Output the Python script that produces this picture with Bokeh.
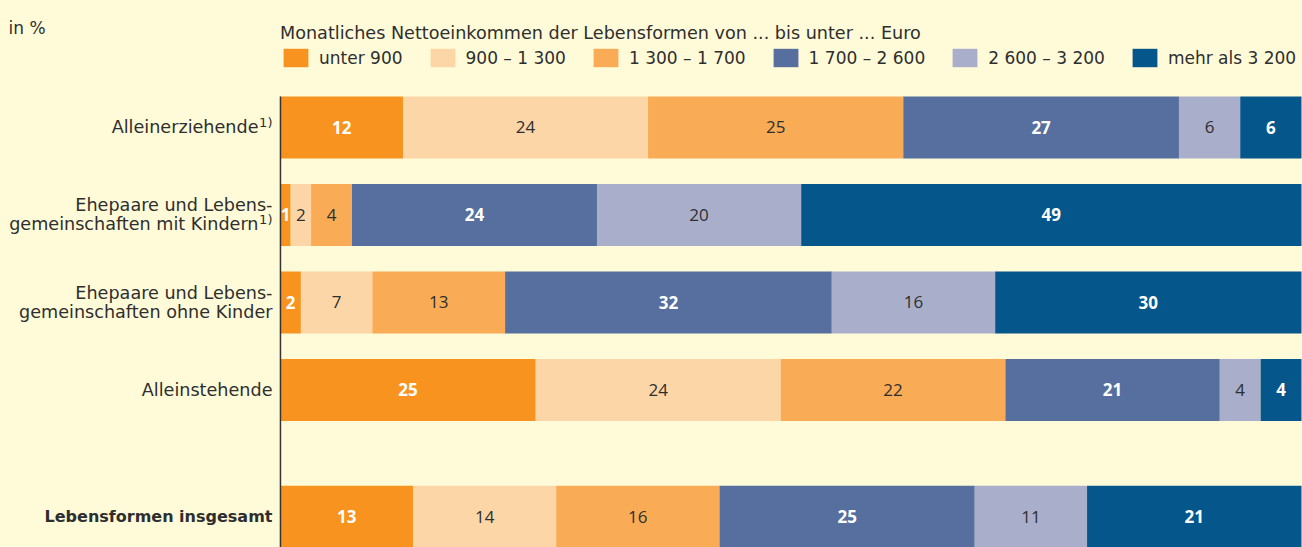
from bokeh.plotting import figure
from bokeh.models import ColumnDataSource, Range1d, Legend, LegendItem, Label
from bokeh.core.properties import value
from bokeh.embed import file_html
from bokeh.resources import INLINE
from jinja2 import Template

# ---------------- data ----------------
categories = [
    "Alleinerziehende",
    "Ehepaare und Lebens-\ngemeinschaften mit Kindern",
    "Ehepaare und Lebens-\ngemeinschaften ohne Kinder",
    "Alleinstehende",
    "Lebensformen insgesamt",
]
footnotes = ["1)", "1)", "", "", ""]
series = ["unter 900", "900 \u2013 1 300", "1 300 \u2013 1 700",
          "1 700 \u2013 2 600", "2 600 \u2013 3 200", "mehr als 3 200"]
unter_900 = [12, 1, 2, 25, 13]
von_900_1300 = [24, 2, 7, 24, 14]
von_1300_1700 = [25, 4, 13, 22, 16]
von_1700_2600 = [27, 24, 32, 21, 25]
von_2600_3200 = [6, 20, 16, 4, 11]
mehr_3200 = [6, 49, 30, 4, 21]
legend_title = "Monatliches Nettoeinkommen der Lebensformen von ... bis unter ... Euro"
unit_note = "in %"

values = [unter_900, von_900_1300, von_1300_1700, von_1700_2600, von_2600_3200, mehr_3200]

# ---------------- layout / style ----------------
W, H = 1302, 547
row_pos = [0, 1, 2, 3, 4.45]
bar_height = 0.71
x_range = (-27.42, 100.1)
y_range = (4.80, -1.451)
BG = "#FFFBD9"
FONT = "DejaVu Sans"
NUM_FONT = "Open Sans"
TXT = "#2E2E2E"
colors = ["#F7931E", "#FDD6A8", "#F9AC55", "#566F9E", "#A9AFCB", "#04568B"]
label_colors = ["white", TXT, TXT, "white", TXT, "white"]
label_styles = ["bold", "normal", "normal", "bold", "normal", "bold"]
cat_styles = ["normal", "normal", "normal", "normal", "bold"]
cat_sizes = ["17.6px", "17.6px", "17.6px", "17.6px", "16px"]
LINE_PX = 19       # line spacing of two-line category labels
LABEL_GAP = -8     # distance of labels from the 0 line
SUP_W = 14         # room taken by the footnote marker

p = figure(width=W, height=H, output_backend="svg", toolbar_location=None,
           x_range=Range1d(*x_range), y_range=Range1d(*y_range),
           min_border=0,
           background_fill_color=BG, border_fill_color=BG, outline_line_color=None)
p.xaxis.visible = False
p.yaxis.visible = False
p.xgrid.visible = False
p.ygrid.visible = False

data = {"y": row_pos}
for s, v in zip(series, values):
    data[s] = v
source = ColumnDataSource(data)

renderers = p.hbar_stack(series, y="y", height=bar_height, color=colors,
                         line_color=None, source=source)

# baseline (category axis line) at 0 %
p.segment(x0=[0], y0=[row_pos[0] - bar_height / 2], x1=[0], y1=[y_range[0]],
          line_color="#333333", line_width=1.5)

# value labels
cum = [0] * len(categories)
for i, v in enumerate(values):
    xs = [c + val / 2 for c, val in zip(cum, v)]
    cum = [c + val for c, val in zip(cum, v)]
    lsrc = ColumnDataSource(dict(x=xs, y=row_pos, t=[str(val) for val in v]))
    p.text(x="x", y="y", text="t", source=lsrc, text_align="center",
           text_baseline="middle", text_font=value(NUM_FONT), text_font_size="17px",
           text_color=label_colors[i], text_font_style=label_styles[i])

# category labels, one text per line; footnote marks set as superscripts
lx, ly, lt, lxo, lyo, lst, lfs = [], [], [], [], [], [], []
sx, sy, stx, sxo, syo = [], [], [], [], []
for k, (cat, fn) in enumerate(zip(categories, footnotes)):
    lines = cat.split("\n")
    n = len(lines)
    for j, line in enumerate(lines):
        off = (j - (n - 1) / 2) * LINE_PX
        last = j == n - 1
        lx.append(0)
        ly.append(row_pos[k])
        lt.append(line)
        lxo.append(LABEL_GAP - (SUP_W if (fn and last) else 0))
        lyo.append(off)
        lst.append(cat_styles[k])
        lfs.append(cat_sizes[k])
        if fn and last:
            sx.append(0)
            sy.append(row_pos[k])
            stx.append(fn)
            sxo.append(LABEL_GAP)
            syo.append(off - 5)
csrc = ColumnDataSource(dict(x=lx, y=ly, t=lt, xo=lxo, yo=lyo, st=lst, fs=lfs))
p.text(x="x", y="y", text="t", source=csrc, x_offset="xo", y_offset="yo",
       text_align="right", text_baseline="middle", text_font=value(FONT),
       text_font_size="fs", text_color=TXT, text_font_style="st")
ssrc = ColumnDataSource(dict(x=sx, y=sy, t=stx, xo=sxo, yo=syo))
p.text(x="x", y="y", text="t", source=ssrc, x_offset="xo", y_offset="yo",
       text_align="right", text_baseline="middle", text_font=value(FONT),
       text_font_size="13px", text_color=TXT)

# legend
items = [LegendItem(label=s, renderers=[r]) for s, r in zip(series, renderers)]
legend = Legend(items=items, orientation="horizontal", location=(280, 478),
                title=legend_title, title_text_font=FONT, title_text_font_size="17.6px",
                title_text_font_style="normal", title_text_color=TXT, title_standoff=3,
                label_text_font=FONT, label_text_font_size="17px", label_text_color=TXT,
                label_standoff=8, spacing=24, glyph_width=31, glyph_height=23,
                label_height=23, padding=0, margin=0, border_line_color=None,
                background_fill_alpha=0)
p.add_layout(legend, "center")

p.add_layout(Label(x=8, y=520, x_units="screen", y_units="screen", text=unit_note,
                   text_font=FONT, text_font_size="17px", text_color=TXT,
                   text_baseline="alphabetic"))

template = Template("""{% extends base %}
{% block preamble %}<style>html, body { background: #FFFBD9; }</style>{% endblock %}""")

open("out.html", "w", encoding="utf-8").write(file_html(p, INLINE, template=template))
